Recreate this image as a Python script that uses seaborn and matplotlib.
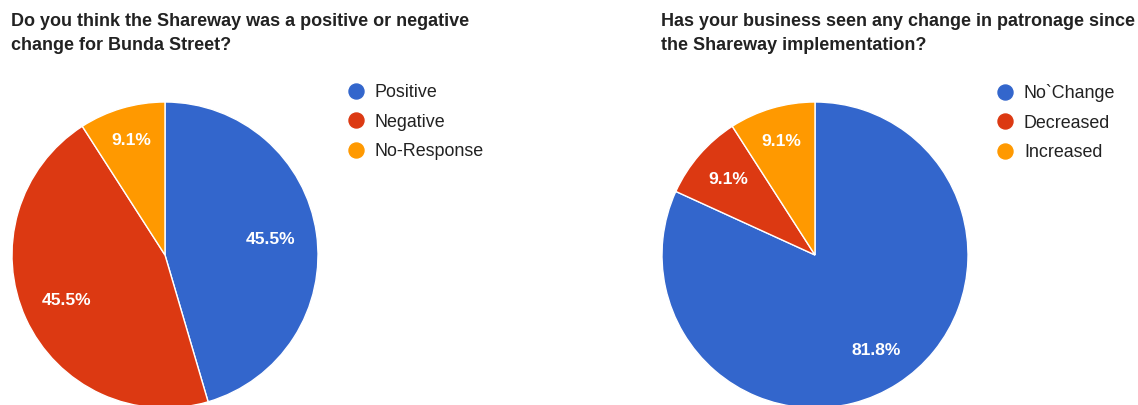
import matplotlib
matplotlib.use("Agg")
import matplotlib.pyplot as plt
from matplotlib.lines import Line2D
import seaborn as sns
import numpy as np

# Survey responses (11 businesses)
q1_title = "Do you think the Shareway was a positive or negative\nchange for Bunda Street?"
q1_labels = ["Positive", "Negative", "No-Response"]
q1_counts = [5, 5, 1]

q2_title = "Has your business seen any change in patronage since\nthe Shareway implementation?"
q2_labels = ["No`Change", "Decreased", "Increased"]
q2_counts = [9, 1, 1]

sns.set_theme(style="white")
plt.rcParams["font.family"] = ["Liberation Sans", "DejaVu Sans"]

palette = ["#3366cc", "#dc3912", "#ff9900"]
TEXT = "#222222"
W, H = 1138, 405

fig = plt.figure(figsize=(W / 100, H / 100), dpi=100)
fig.patch.set_facecolor("white")


def px_axes(x0, y_top, size):
    """Square axes placed by pixel box (top-left origin)."""
    return fig.add_axes([x0 / W, (H - y_top - size) / H, size / W, size / H])


def draw_pie(x0, labels, counts, title, title_x, legend_x, label_dist):
    ax = px_axes(x0, 102, 306)
    wedges, _, autotexts = ax.pie(
        counts, colors=palette, startangle=90, counterclock=False,
        autopct="%.1f%%", radius=1.0,
        wedgeprops=dict(edgecolor="white", linewidth=1.0),
        textprops=dict(color="white", fontsize=12.6, fontweight="bold"),
    )
    for w, t, d in zip(wedges, autotexts, label_dist):
        mid = np.deg2rad((w.theta1 + w.theta2) / 2)
        t.set_position((d * np.cos(mid), d * np.sin(mid)))
        t.set_ha("center")
        t.set_va("center")
    ax.set_xlim(-1, 1)
    ax.set_ylim(-1, 1)
    ax.set_aspect("equal")
    ax.axis("off")

    fig.text(title_x / W, 1 - 13 / H, title, ha="left", va="top",
             fontsize=12.95, fontweight="bold", color=TEXT, linespacing=1.55)

    handles = [Line2D([], [], marker="o", linestyle="none", markersize=10.8,
                      markerfacecolor=c, markeredgecolor=c) for c in palette]
    fig.legend(handles, labels, loc="upper left",
               bbox_to_anchor=(legend_x / W, 1 - 84 / H),
               frameon=False, fontsize=12.9, labelcolor=TEXT,
               handlelength=0.9, handletextpad=0.6, labelspacing=0.7,
               borderpad=0, borderaxespad=0)


draw_pie(12, q1_labels, q1_counts, q1_title, 11, 348, [0.70, 0.71, 0.78])
draw_pie(662, q2_labels, q2_counts, q2_title, 661, 997, [0.745, 0.75, 0.77])

fig.savefig("out.png", dpi=100, facecolor="white")
